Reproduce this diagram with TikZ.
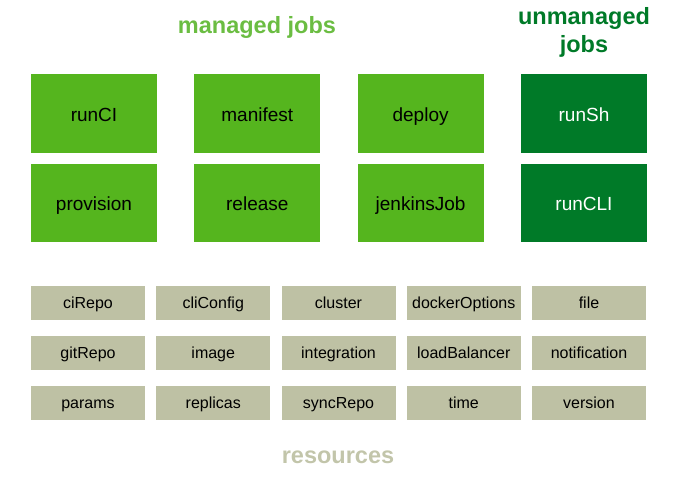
\documentclass[tikz,border=0pt]{standalone}
\usepackage{fontspec}
\setmainfont{Liberation Sans}
\definecolor{jobgreen}{HTML}{55B51E}
\definecolor{darkjob}{HTML}{007A28}
\definecolor{titlegreen}{HTML}{6BBD42}
\definecolor{resgrey}{HTML}{BEC1A4}
\definecolor{restitle}{HTML}{C2C5AA}

\begin{document}
\begin{tikzpicture}[x=1pt,y=-1pt]

        \useasboundingbox (0,0) rectangle (683,479);

        \tikzstyle{job}=[rectangle, fill=jobgreen, minimum width=126pt, minimum height=78.5pt, inner sep=0pt, text height=19.4pt, text depth=4pt, font=\fontsize{19}{22}\selectfont]
        \tikzstyle{res}=[rectangle, fill=resgrey, minimum width=114pt, minimum height=34pt, inner sep=0pt, text height=14pt, text depth=3.4pt, font=\fontsize{16}{19}\selectfont]
        \tikzstyle{heading}=[font=\fontsize{23.5}{28}\selectfont\bfseries, align=center]

        % managed and unmanaged jobs
        \foreach \i / \a / \b in {0/runCI/provision,1/manifest/release,2/deploy/jenkinsJob} {
            \node[job] (j_\a) at (94+\i*163.3, 113.3) {\a};
            \node[job] (j_\b) at (94+\i*163.3, 203) {\b};
        }
        \node[job, fill=darkjob, text=white] (j_runSh) at (584, 113.3) {runSh};
        \node[job, fill=darkjob, text=white] (j_runCLI) at (584, 203) {runCLI};

        % resources
        \foreach \i / \a / \b / \c in {0/ciRepo/gitRepo/params,1/cliConfig/image/replicas,2/cluster/integration/syncRepo,3/dockerOptions/loadBalancer/time,4/file/notification/version} {
            \node[res] (r_\a) at (88+\i*125.25, 303) {\a};
            \node[res] (r_\b) at (88+\i*125.25, 353) {\b};
            \node[res] (r_\c) at (88+\i*125.25, 403) {\c};
        }

        \node[heading, text=titlegreen, text height=17pt, text depth=5pt] (managed) at (257, 27) {managed jobs};
        \node[heading, text=darkjob] (unmanaged) at (584, 32) {unmanaged\\jobs};
        \node[heading, text=restitle, text height=17pt, text depth=5pt] (resources) at (338, 457) {resources};

    \end{tikzpicture}
\end{document}
